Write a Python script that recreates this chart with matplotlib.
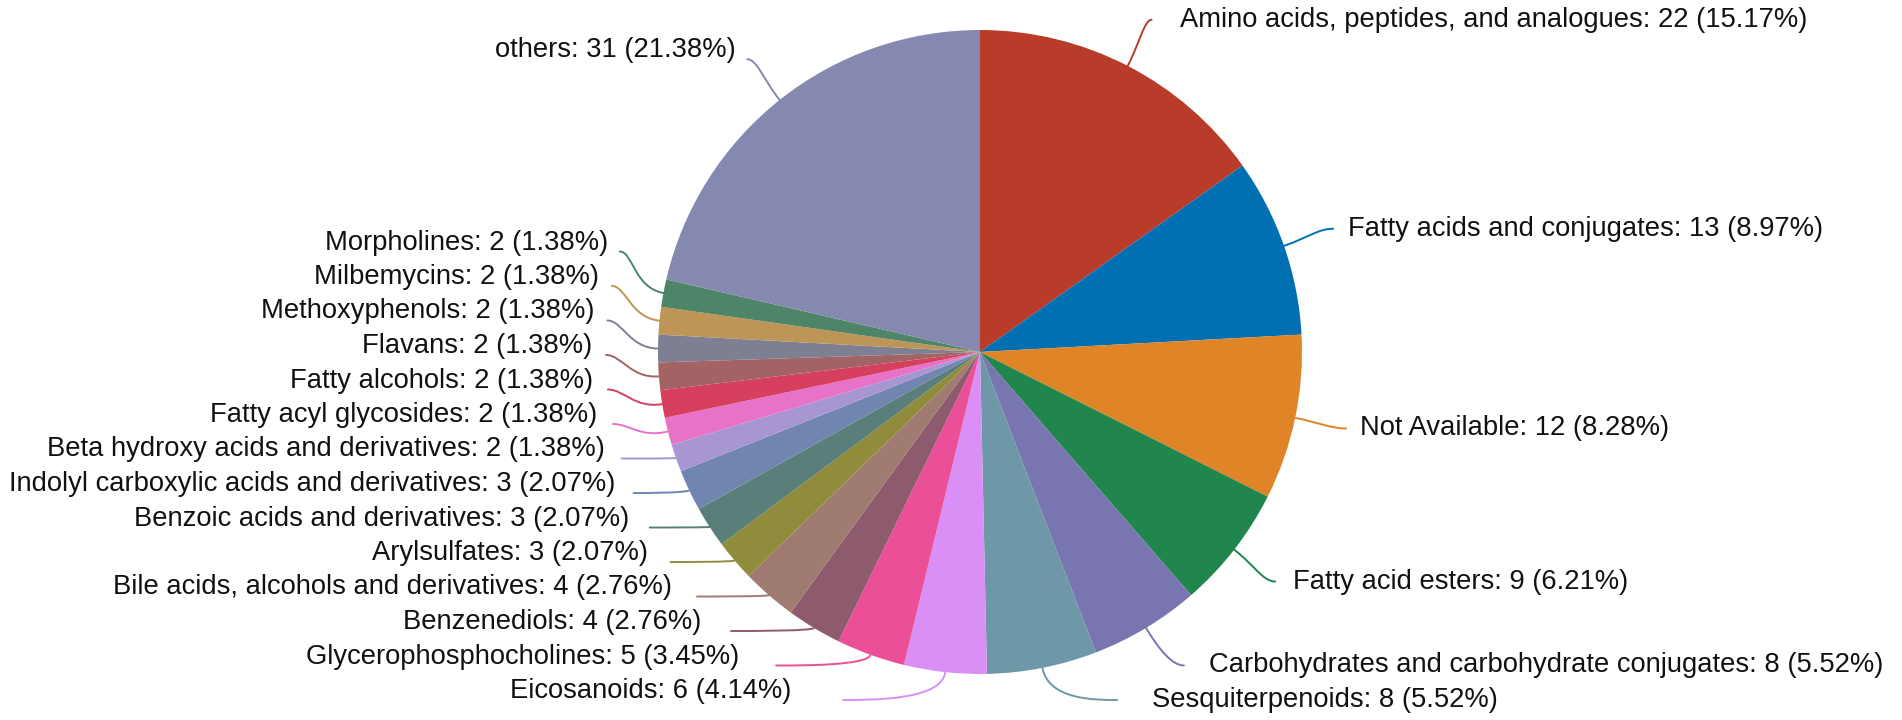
import numpy as np
import matplotlib.pyplot as plt
from matplotlib.path import Path
from matplotlib.patches import PathPatch

plt.rcParams['font.family'] = ['Liberation Sans', 'DejaVu Sans']

# slices, clockwise from 12 o'clock
categories = [
    "Amino acids, peptides, and analogues",
    "Fatty acids and conjugates",
    "Not Available",
    "Fatty acid esters",
    "Carbohydrates and carbohydrate conjugates",
    "Sesquiterpenoids",
    "Eicosanoids",
    "Glycerophosphocholines",
    "Benzenediols",
    "Bile acids, alcohols and derivatives",
    "Arylsulfates",
    "Benzoic acids and derivatives",
    "Indolyl carboxylic acids and derivatives",
    "Beta hydroxy acids and derivatives",
    "Fatty acyl glycosides",
    "Fatty alcohols",
    "Flavans",
    "Methoxyphenols",
    "Milbemycins",
    "Morpholines",
    "others",
]
counts = [22, 13, 12, 9, 8, 8, 6, 5, 4, 4, 3, 3, 3, 2, 2, 2, 2, 2, 2, 2, 31]
colors = [
    "#B93C2A", "#0070B3", "#E08527", "#21864E", "#7875B0", "#6E98A8",
    "#DA8FF7", "#EB4F97", "#8E5A6E", "#A07B72", "#918C3C", "#5A7E7A",
    "#7086B0", "#A896D2", "#E872C8", "#D6405E", "#A36264", "#7F7F94",
    "#BD9657", "#4E8467", "#8689AF",
]

W, H = 1902, 720
fig = plt.figure(figsize=(W / 100, H / 100), dpi=100)
ax = fig.add_axes([0, 0, 1, 1])

cx, cy, r = 980, H - 352, 322
wedges, _ = ax.pie(counts, colors=colors, startangle=90, counterclock=False,
                   center=(cx, cy), radius=r, wedgeprops=dict(linewidth=0))
ax.set_xlim(0, W)
ax.set_ylim(0, H)
ax.set_aspect('auto')
ax.axis('off')

total = sum(counts)
R_lab = r + 52      # where labels want to sit
R_end = r + 52      # where leader lines end
R_txt = r + 66      # where text is anchored
h = 34.5            # min vertical gap between labels
y_lo, y_hi = H - 700, H - 18

items = []
for name, n, col, w in zip(categories, counts, colors, wedges):
    mid = np.deg2rad((w.theta1 + w.theta2) / 2)
    c, s = np.cos(mid), np.sin(mid)
    items.append(dict(name=name, n=n, col=col, c=c, s=s,
                      side=1 if c >= 0 else -1, y=cy + R_lab * s))

# push overlapping labels apart, keep them inside the picture
for side in (-1, 1):
    grp = sorted([it for it in items if it['side'] == side], key=lambda it: -it['y'])
    for i in range(1, len(grp)):
        grp[i]['y'] = min(grp[i]['y'], grp[i - 1]['y'] - h)
    if grp[-1]['y'] < y_lo:
        grp[-1]['y'] = y_lo
        for i in range(len(grp) - 2, -1, -1):
            grp[i]['y'] = max(grp[i]['y'], grp[i + 1]['y'] + h)
    if grp[0]['y'] > y_hi:
        grp[0]['y'] = y_hi
        for i in range(1, len(grp)):
            grp[i]['y'] = min(grp[i]['y'], grp[i - 1]['y'] - h)

for it in items:
    c, s, side, y = it['c'], it['s'], it['side'], it['y']
    ax0, ay0 = cx + r * c, cy + r * s
    dy = y - cy
    ex = cx + side * np.sqrt(max(R_end ** 2 - dy ** 2, 0))
    dist = np.hypot(ex - ax0, y - ay0)
    k1 = 0.5 * dist
    # don't overshoot the label height when the radius heads towards it
    if abs(s) > 1e-6 and np.sign(y - ay0) == np.sign(s):
        k1 = min(k1, abs(y - ay0) / abs(s))
    k2 = 0.3 * abs(ex - ax0)
    verts = [(ax0, ay0), (ax0 + c * k1, ay0 + s * k1), (ex - side * k2, y), (ex, y)]
    path = Path(verts, [Path.MOVETO, Path.CURVE4, Path.CURVE4, Path.CURVE4])
    ax.add_patch(PathPatch(path, facecolor='none', edgecolor=it['col'], lw=1.4,
                           capstyle='round', zorder=1))

    ty = y + (9 if side < 0 else 0)
    tx = cx + side * np.sqrt(max(R_txt ** 2 - (ty - cy) ** 2, 0))
    pct = it['n'] / total * 100
    ax.text(tx, ty, f"{it['name']}: {it['n']} ({pct:.2f}%)",
            ha='right' if side < 0 else 'left', va='center',
            fontsize=19.7, color='#111111')

fig.savefig("out.png", dpi=100)
